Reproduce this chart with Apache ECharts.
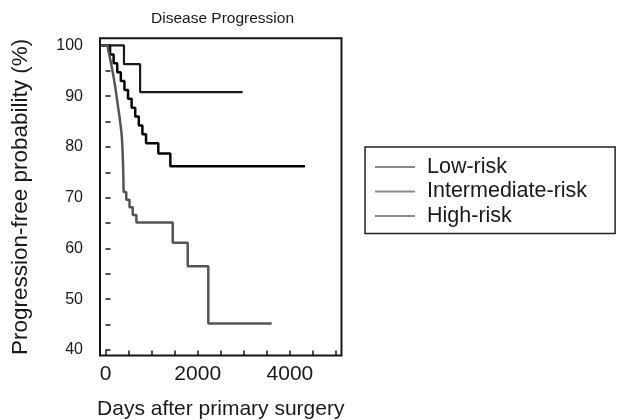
<!DOCTYPE html>
<html>
<head>
<meta charset="utf-8">
<script src="https://cdn.jsdelivr.net/npm/echarts@6/dist/echarts.min.js"></script>
<style>
html,body{margin:0;padding:0;background:#fff;}
#chart{width:617px;height:420px;}
</style>
</head>
<body>
<div id="chart"></div>
<script>
// ---- data ----
const seriesNames = ['Low-risk', 'Intermediate-risk', 'High-risk'];

const lowDays = [-90, 400, 750, 2975];
const lowVals = [100, 96.3, 90.8, 90.8];

const intDays = [-90, 98, 176, 254, 332, 410, 488, 566, 644, 722, 800, 879, 1145, 1406, 4328];
const intVals = [100, 98.2, 96.5, 94.7, 93.0, 91.2, 89.5, 87.7, 86.0, 84.2, 82.5, 80.7, 78.7, 76.2, 76.2];

const highDays = [-90, 55, 80, 105, 130, 155, 180, 205, 230, 255, 280, 305, 330, 350, 362, 371, 377, 382, 386, 390, 393, 450, 520, 590, 670, 1458, 1783, 2230, 3605];
const highVals = [100, 99.2, 98.2, 97.1, 96.0, 94.8, 93.5, 92.1, 90.6, 89.0, 87.4, 85.8, 84.1, 82.4, 80.7, 79.0, 77.4, 75.8, 74.2, 72.6, 71.1, 69.6, 68.1, 66.6, 65.1, 61.1, 56.5, 45.2, 45.2];

const xTickValues = [0, 500, 1000, 1500, 2000, 2500, 3000, 3500, 4000, 4500, 5000];
const xLabelValues = [0, 2000, 4000];
const yTickValues = [40, 45, 50, 55, 60, 65, 70, 75, 80, 85, 90, 95, 100];
const yLabelValues = [40, 50, 60, 70, 80, 90, 100];

function pairs(xs, ys) { return xs.map((x, i) => [x, ys[i]]); }

const chart = echarts.init(document.getElementById('chart'), null, {renderer: 'canvas'});
const FONT = '"Liberation Sans", Arial, Helvetica, sans-serif';
const TXT = '#1a1a1a';

chart.setOption({
  animation: false,
  backgroundColor: '#fff',
  title: {
    text: 'Disease Progression',
    left: 151, top: 11, padding: 0,
    textStyle: {fontFamily: FONT, fontSize: 15.5, fontWeight: 'normal', color: TXT}
  },
  grid: {
    left: 100, right: 275.5, top: 38.3, bottom: 64.5,
    outerBoundsMode: 'none', containLabel: false,
    show: true, borderColor: '#151515', borderWidth: 2, backgroundColor: 'transparent'
  },
  legend: {
    orient: 'vertical',
    left: 365, top: 147,
    padding: [9, 28, 6.5, 10],
    itemGap: 2.5,
    itemWidth: 40, itemHeight: 2,
    icon: 'rect',
    borderColor: '#222', borderWidth: 1.5,
    itemStyle: {color: '#8a8a8a', borderWidth: 0},
    textStyle: {fontFamily: FONT, fontSize: 21.5, color: TXT, padding: [0, 0, 0, 7]},
    data: seriesNames
  },
  xAxis: {
    type: 'value', min: -120, max: 5120,
    name: 'Days after primary surgery', nameLocation: 'middle', nameGap: 43,
    nameTextStyle: {fontFamily: FONT, fontSize: 21, color: TXT},
    axisLine: {show: false},
    splitLine: {show: false},
    axisTick: {show: true, inside: true, length: 5, lineStyle: {color: '#151515', width: 1.5}, customValues: xTickValues},
    axisLabel: {fontFamily: FONT, fontSize: 21, color: TXT, margin: 8, customValues: xLabelValues,
                formatter: function (v) { return String(v); }}
  },
  yAxis: {
    type: 'value', min: 38.9, max: 101.4,
    name: 'Progression-free probability (%)', nameLocation: 'middle', nameGap: 68,
    nameTextStyle: {fontFamily: FONT, fontSize: 22.5, color: TXT},
    axisLine: {show: false},
    splitLine: {show: false},
    axisTick: {show: true, inside: true, length: 5, lineStyle: {color: '#151515', width: 1.5}, customValues: yTickValues},
    axisLabel: {fontFamily: FONT, fontSize: 16, color: TXT, margin: 17, customValues: yLabelValues,
                formatter: function (v) { return String(v); }}
  },
  series: [
    {name: seriesNames[0], type: 'line', step: 'end', symbol: 'none', data: pairs(lowDays, lowVals),
     lineStyle: {color: '#1a1a1a', width: 2.2}, itemStyle: {color: '#8a8a8a'}},
    {name: seriesNames[1], type: 'line', step: 'end', symbol: 'none', data: pairs(intDays, intVals),
     lineStyle: {color: '#050505', width: 2.5}, itemStyle: {color: '#8a8a8a'}},
    {name: seriesNames[2], type: 'line', step: 'end', symbol: 'none', data: pairs(highDays, highVals),
     lineStyle: {color: '#555555', width: 2.5}, itemStyle: {color: '#8a8a8a'}}
  ]
});
</script>
</body>
</html>
